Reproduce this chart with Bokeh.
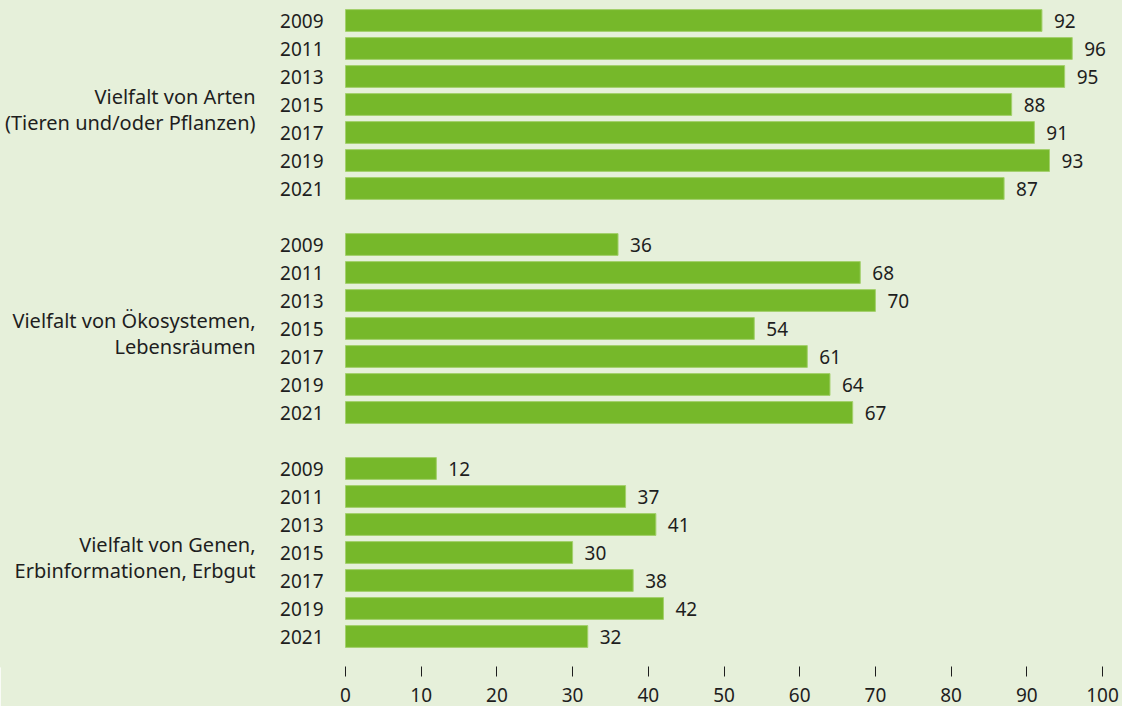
from bokeh.plotting import figure
from bokeh.models import ColumnDataSource, Range1d, FixedTicker
from bokeh.core.properties import value
from bokeh.embed import file_html
from bokeh.resources import INLINE

# ---- data ----
groups = ["Vielfalt von Arten\n(Tieren und/oder Pflanzen)",
          "Vielfalt von Ökosystemen,\nLebensräumen",
          "Vielfalt von Genen,\nErbinformationen, Erbgut"]
years = ["2009", "2011", "2013", "2015", "2017", "2019", "2021"]
arten = [92, 96, 95, 88, 91, 93, 87]
oekosysteme = [36, 68, 70, 54, 61, 64, 67]
gene = [12, 37, 41, 30, 38, 42, 32]
x_ticks = [0, 10, 20, 30, 40, 50, 60, 70, 80, 90, 100]

series = [arten, oekosysteme, gene]

# ---- layout ----
W, H = 1122, 706
BOTTOM = 40
FRAME_H = H - BOTTOM
ZERO_PX = 345          # canvas x of value 0
PX_PER_UNIT = 7.57
ROW_PX = 28
FIRST_ROW_PX = 20
GROUP_STEP = 8
BG = "#e6f0da"
BAR = "#76b82a"
TXT = "#1e1e1e"
FONT = "Noto Sans"

x_start = -ZERO_PX / PX_PER_UNIT
x_end = (W - ZERO_PX) / PX_PER_UNIT
y_end = FIRST_ROW_PX / ROW_PX
y_start = y_end - FRAME_H / ROW_PX

ys, vals, yrs = [], [], []
for g, vs in enumerate(series):
    for j, v in enumerate(vs):
        ys.append(-(g * GROUP_STEP + j))
        vals.append(v)
        yrs.append(years[j])
src = ColumnDataSource(dict(y=ys, v=vals, lab=[str(v) for v in vals], yr=yrs, zero=[0] * len(ys)))

p = figure(width=W, height=H, output_backend="svg", toolbar_location=None,
           x_range=Range1d(x_start, x_end), y_range=Range1d(y_start, y_end),
           min_border_left=0, min_border_right=0, min_border_top=0, min_border_bottom=BOTTOM)
p.background_fill_color = BG
p.border_fill_color = BG
p.outline_line_color = BG
p.outline_line_width = 2
p.grid.visible = False
p.yaxis.visible = False

p.hbar(y="y", left=0, right="v", height=0.78, source=src,
       fill_color=BAR, line_color="#a3d06c", line_width=1)

p.text(x="v", y="y", text="lab", source=src, x_offset=12,
       text_align="left", text_baseline="middle", text_font=value(FONT),
       text_font_size="19px", text_color=TXT)
p.text(x="zero", y="y", text="yr", source=src, x_offset=-22,
       text_align="right", text_baseline="middle", text_font=value(FONT),
       text_font_size="19px", text_color=TXT)

# group labels (two lines each)
gx, gy, gt = [], [], []
for g, name in enumerate(groups):
    lines = name.split("\n")
    center = -(g * GROUP_STEP + 3)
    n = len(lines)
    for k, ln in enumerate(lines):
        off = (k - (n - 1) / 2) * 26 + 5
        gx.append(0)
        gy.append(center - off / ROW_PX)
        gt.append(ln)
p.text(x=gx, y=gy, text=gt, x_offset=-90, text_align="right", text_baseline="middle",
       text_font=value(FONT), text_font_size="20px", text_color=TXT)

ax = p.xaxis[0]
ax.ticker = FixedTicker(ticks=x_ticks)
ax.axis_line_color = None
ax.major_tick_in = 0
ax.major_tick_out = 10
ax.major_tick_line_color = TXT
ax.major_tick_line_width = 1
ax.minor_tick_line_color = None
ax.major_label_text_font = FONT
ax.major_label_text_font_size = "19px"
ax.major_label_text_color = TXT
ax.major_label_standoff = 11

open("out.html", "w").write(file_html(p, INLINE))
